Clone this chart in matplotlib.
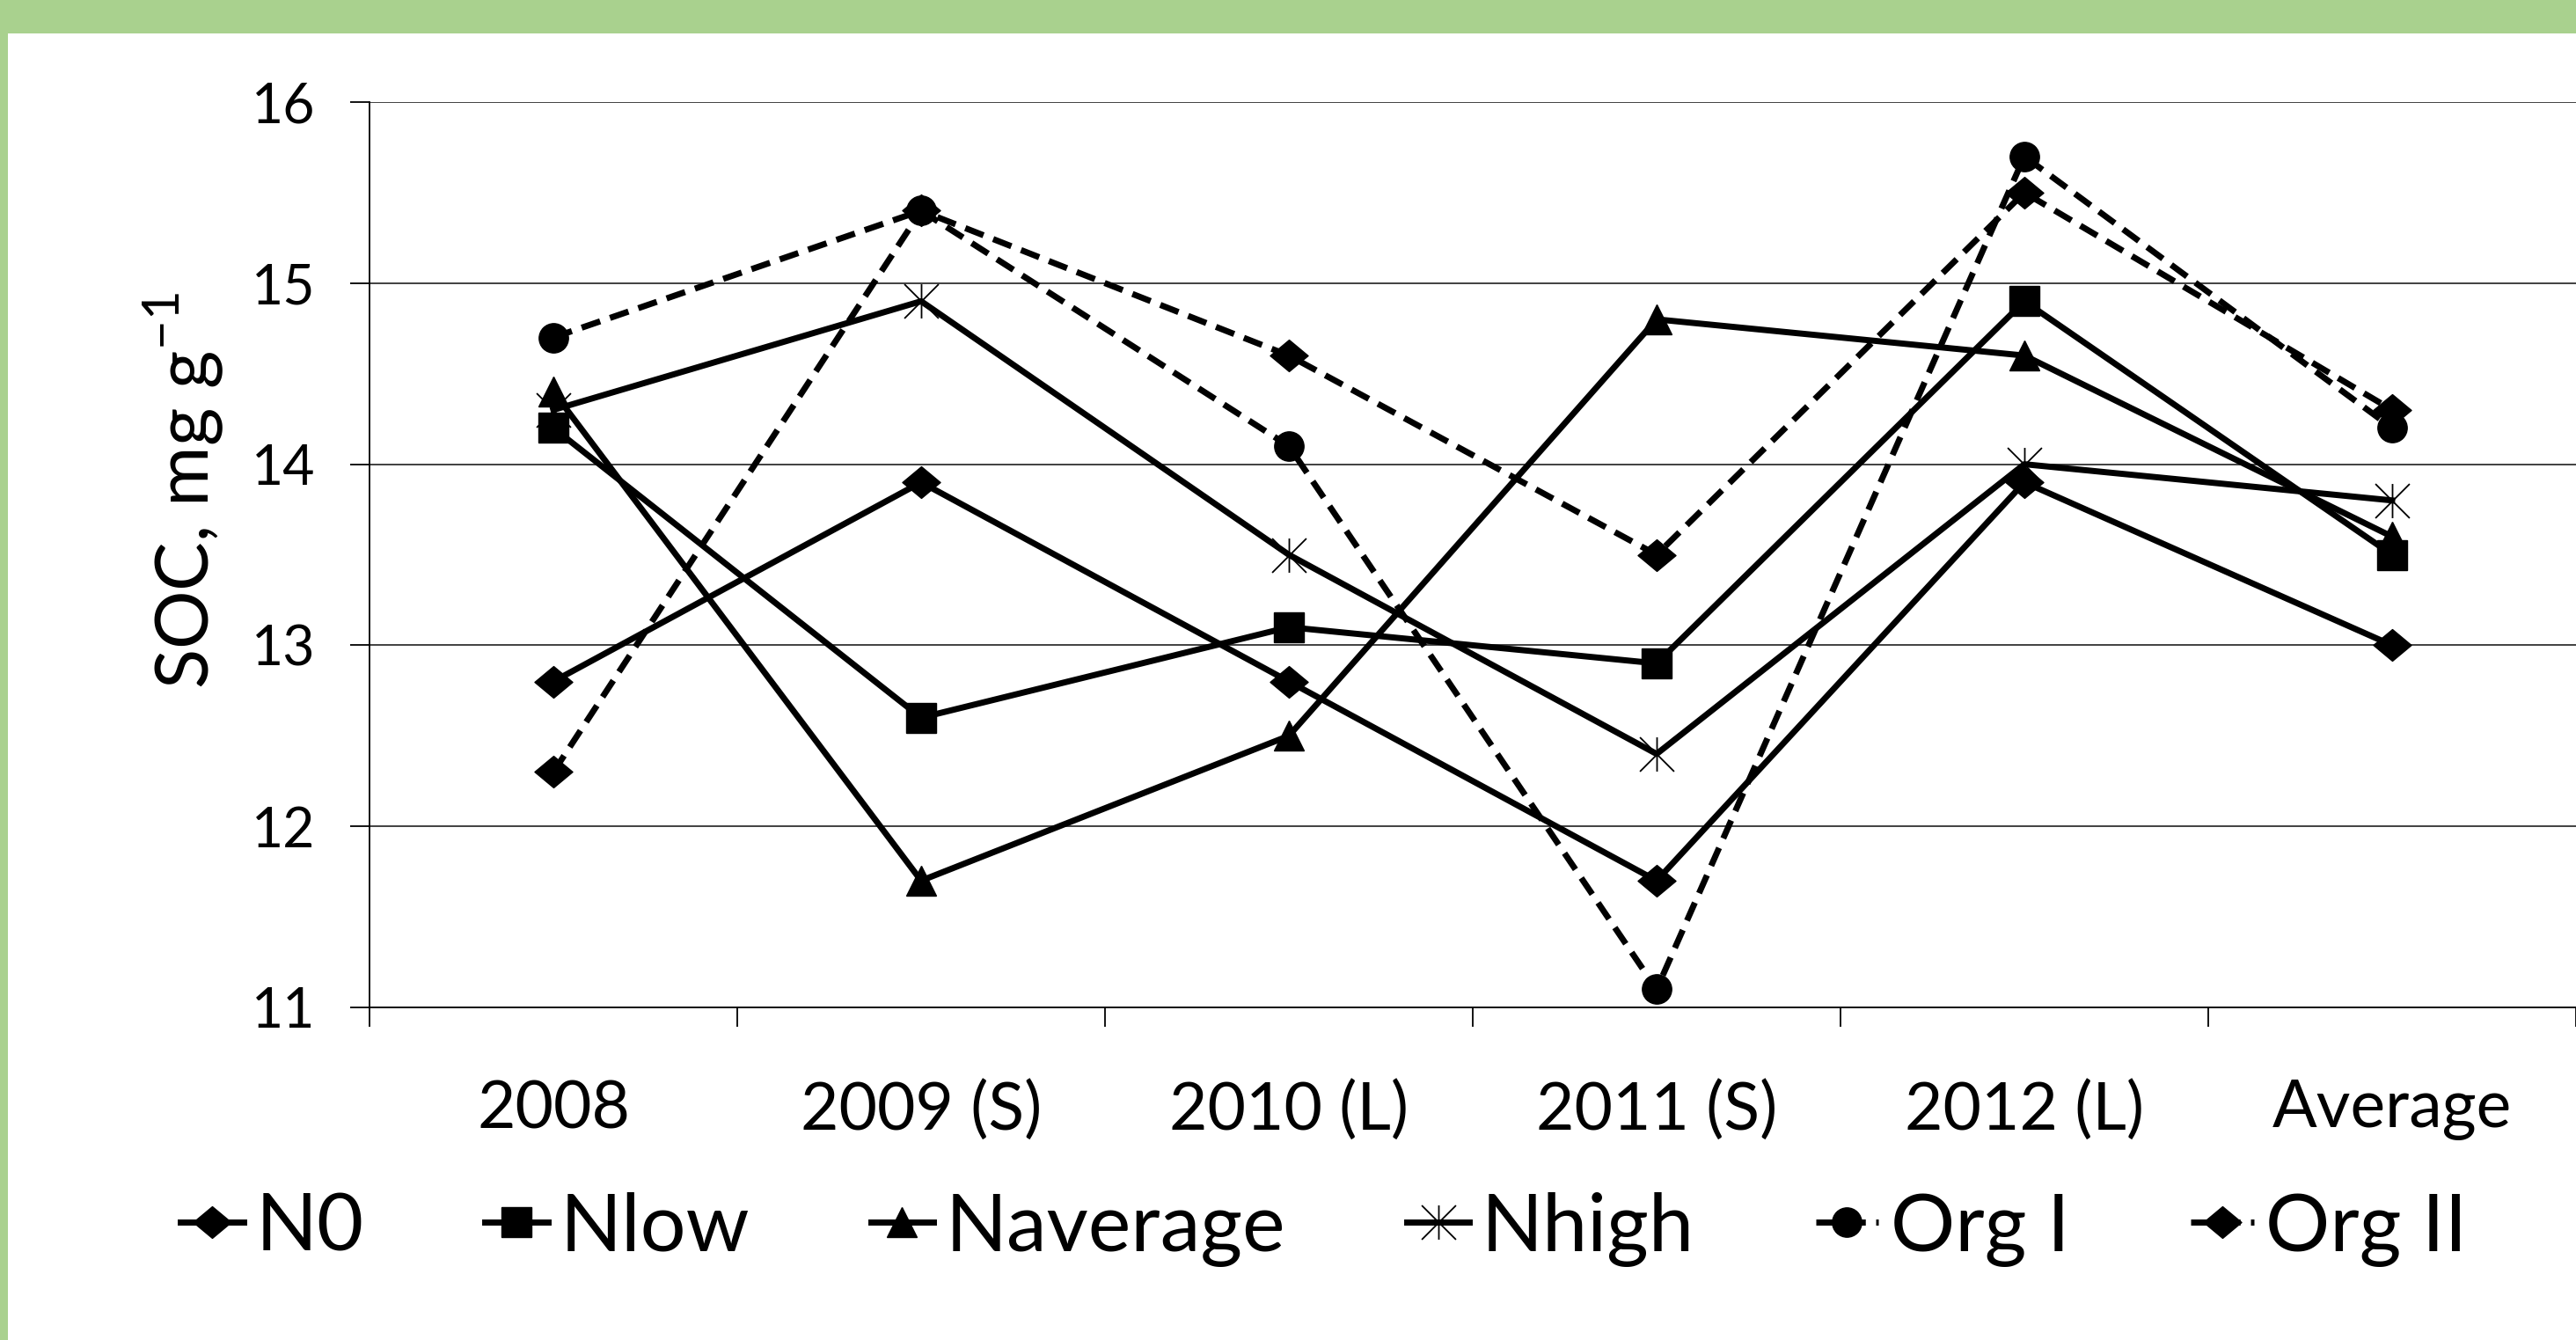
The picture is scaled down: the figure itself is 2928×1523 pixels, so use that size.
import numpy as np
import matplotlib
matplotlib.use("Agg")
import matplotlib.pyplot as plt
from matplotlib.path import Path
from matplotlib.patches import Rectangle

plt.rcParams['font.family'] = ['Lato', 'DejaVu Sans']

years = ['2008', '2009 (S)', '2010 (L)', '2011 (S)', '2012 (L)', 'Average']

n0 = [12.8, 13.9, 12.8, 11.7, 13.9, 13.0]
nlow = [14.2, 12.6, 13.1, 12.9, 14.9, 13.5]
naverage = [14.4, 11.7, 12.5, 14.8, 14.6, 13.6]
nhigh = [14.3, 14.9, 13.5, 12.4, 14.0, 13.8]
org1 = [14.7, 15.4, 14.1, 11.1, 15.7, 14.2]
org2 = [12.3, 15.4, 14.6, 13.5, 15.5, 14.3]

# excel-like star: vertical bar plus an X
star = Path([(0, -1), (0, 1), (-1, -1), (1, 1), (-1, 1), (1, -1)],
            [Path.MOVETO, Path.LINETO, Path.MOVETO, Path.LINETO, Path.MOVETO, Path.LINETO])
# slightly flattened diamond like excel's
diamond = Path([(0, 1), (1.2, 0), (0, -1), (-1.2, 0), (0, 1)],
               [Path.MOVETO, Path.LINETO, Path.LINETO, Path.LINETO, Path.CLOSEPOLY])

fig = plt.figure(figsize=(29.28, 15.23), dpi=100, facecolor='#a9d18e')
fig.patches.append(Rectangle((9 / 2928, 0), 1, 1 - 38 / 1523, transform=fig.transFigure,
                             facecolor='white', edgecolor='none', zorder=-10))

ax = fig.add_axes([420 / 2928, 378 / 1523, 1 - 420 / 2928, (1145 - 116) / 1523])
ax.set_facecolor('none')
ax.set_zorder(2)

x = np.arange(len(years))
lw = 5.0
dash = (0, (3.2, 1.7))
ax.plot(x, n0, color='black', lw=lw, marker=diamond, ms=31, label='N0')
ax.plot(x, nlow, color='black', lw=lw, marker='s', ms=24, label='Nlow')
ax.plot(x, naverage, color='black', lw=lw, marker='^', ms=25, label='Naverage')
ax.plot(x, nhigh, color='black', lw=lw, marker=star, ms=28, mew=1.3, fillstyle='none', label='Nhigh')
ax.plot(x, org1, color='black', lw=lw, ls=dash, marker='o', ms=24, label='Org I')
ax.plot(x, org2, color='black', lw=lw, ls=dash, marker=diamond, ms=31, label='Org II')

ax.set_xlim(-0.5, 5.5)
ax.set_ylim(11, 16)
ax.set_yticks(range(11, 17))
ax.yaxis.grid(True, color='#404040', lw=1.4)
ax.set_axisbelow(True)

ax.set_xticks(x)
ax.set_xticklabels(years)
ax.set_xticks(np.arange(-0.5, 6, 1), minor=True)
ax.tick_params(axis='x', which='major', length=0, pad=59, labelsize=54)
ax.tick_params(axis='x', which='minor', length=16, width=1.3, direction='out')
ax.tick_params(axis='y', length=16, width=1.3, direction='out', pad=28, labelsize=45)

for s in ['top', 'right']:
    ax.spines[s].set_visible(False)
for s in ['left', 'bottom']:
    ax.spines[s].set_linewidth(1.3)

ax.set_ylabel('SOC, mg g$^{\\mathregular{-1}}$', fontsize=60, labelpad=22)
ax.yaxis.label.set_y(0.571)

fig.legend(loc='center', bbox_to_anchor=(0.514, 0.0827), ncol=6, frameon=False,
           fontsize=66, handlelength=0.78, handletextpad=0.15, columnspacing=1.5,
           borderaxespad=0)

fig.savefig('out.png', dpi=100, facecolor=fig.get_facecolor())
